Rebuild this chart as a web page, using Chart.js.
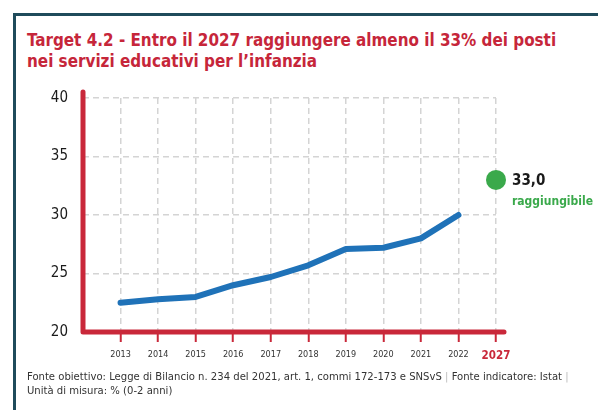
<!DOCTYPE html>
<html>
<head>
<meta charset="utf-8">
<script src="https://cdn.jsdelivr.net/npm/chart.js@4"></script>
<style>
  html, body { margin: 0; padding: 0; background: #fff; }
  #wrap { position: relative; width: 598px; height: 410px; overflow: hidden;
          font-family: "DejaVu Sans Condensed", "DejaVu Sans", sans-serif; }
  #frame { position: absolute; left: 13px; top: 13px; right: -10px; bottom: -10px;
           border-left: 3px solid #1f4b5b; border-top: 3px solid #1f4b5b; }
  #title { position: absolute; left: 27px; top: 30px; width: 565px;
           color: #c6263a; font-weight: bold; font-size: 16.9px; line-height: 21px; }
  #note { position: absolute; left: 27px; top: 370px; width: 565px;
          color: #333; font-size: 11.2px; line-height: 14px; }
  #note .sep { color: #bbb; }
  #c { position: absolute; left: 0; top: 0; }
</style>
</head>
<body>
<div id="wrap">
  <div id="frame"></div>
  <div id="title">Target 4.2 - Entro il 2027 raggiungere almeno il 33% dei posti<br>nei servizi educativi per l’infanzia</div>
  <canvas id="c" width="598" height="410"></canvas>
  <div id="note">Fonte obiettivo: Legge di Bilancio n. 234 del 2021, art. 1, commi 172-173 e SNSvS <span class="sep">|</span> Fonte indicatore: Istat <span class="sep">|</span><br>Unità di misura: % (0-2 anni)</div>
</div>
<script>
// Years shown on the horizontal axis (the last one is the target year)
const years = ['2013', '2014', '2015', '2016', '2017', '2018', '2019', '2020', '2021', '2022', '2027'];
// Posti nei servizi educativi per l'infanzia, % of children 0-2
const postiValues = [22.5, 22.8, 23.0, 24.0, 24.7, 25.7, 27.1, 27.2, 28.0, 30.0];
// Target for 2027
const targetValue = 33.0;
const targetLabel = 'raggiungibile';
// Vertical axis ticks
const yTicks = [20, 25, 30, 35, 40];

const RED = '#c9283a';
const BLUE = '#1f72b8';
const GREEN = '#3aa94b';
const GRID = '#d4d4d4';
const FONT = '"DejaVu Sans Condensed", "DejaVu Sans", sans-serif';

const lineData = postiValues.map((v, i) => ({ x: i, y: v }));
const targetData = [{ x: years.length - 1, y: targetValue }];

// Thick red axis lines with rounded ends
const axisPlugin = {
  id: 'redAxes',
  beforeDatasetsDraw(chart) {
    const { ctx, chartArea } = chart;
    ctx.save();
    ctx.strokeStyle = RED;
    ctx.lineWidth = 5;
    ctx.lineCap = 'round';
    ctx.lineJoin = 'round';
    ctx.beginPath();
    ctx.moveTo(chartArea.left, chartArea.top - 6);
    ctx.lineTo(chartArea.left, chartArea.bottom);
    ctx.lineTo(chartArea.right + 8, chartArea.bottom);
    ctx.stroke();
    ctx.restore();
  }
};

// Value and status next to the target point
const targetLabelPlugin = {
  id: 'targetLabel',
  afterDatasetsDraw(chart) {
    const { ctx } = chart;
    const meta = chart.getDatasetMeta(1);
    const pt = meta.data[0];
    const val = chart.data.datasets[1].data[0].y;
    ctx.save();
    ctx.textAlign = 'left';
    ctx.textBaseline = 'middle';
    ctx.fillStyle = '#1a1a1a';
    ctx.font = 'bold 15px ' + FONT;
    ctx.fillText(val.toFixed(1).replace('.', ','), pt.x + 16, pt.y + 1);
    ctx.fillStyle = GREEN;
    ctx.font = 'bold 12px ' + FONT;
    ctx.fillText(targetLabel, pt.x + 16, pt.y + 22);
    ctx.restore();
  }
};

new Chart(document.getElementById('c'), {
  type: 'line',
  data: {
    datasets: [
      {
        data: lineData,
        borderColor: BLUE,
        borderWidth: 6,
        borderCapStyle: 'round',
        borderJoinStyle: 'round',
        pointRadius: 0,
        tension: 0,
        fill: false
      },
      {
        data: targetData,
        showLine: false,
        clip: false,
        pointRadius: 10,
        pointBackgroundColor: GREEN,
        pointBorderColor: GREEN,
        pointBorderWidth: 0
      }
    ]
  },
  options: {
    responsive: false,
    animation: false,
    layout: { padding: { left: 0, top: 98, right: 102, bottom: 0 } },
    plugins: { legend: { display: false }, tooltip: { enabled: false } },
    scales: {
      x: {
        type: 'linear',
        min: -1,
        max: years.length - 1,
        afterFit(scale) { scale.height = 78; },
        afterBuildTicks(scale) { scale.ticks = years.map((_, i) => ({ value: i })); },
        border: { display: false, dash: [6, 4] },
        grid: {
          color: GRID,
          lineWidth: 1.5,
          drawTicks: true,
          tickLength: 10,
          tickColor: RED,
          tickWidth: 2,
          tickBorderDash: []
        },
        ticks: {
          padding: 7,
          maxRotation: 0,
          autoSkip: false,
          callback: (v) => years[v],
          color: (ctx) => ctx.index === years.length - 1 ? RED : '#333',
          font: (ctx) => ctx.index === years.length - 1
            ? { family: FONT, size: 11.5, weight: 'bold' }
            : { family: FONT, size: 9 }
        }
      },
      y: {
        min: 20,
        max: 40,
        afterFit(scale) { scale.width = 83; },
        afterBuildTicks(scale) { scale.ticks = yTicks.map(v => ({ value: v })); },
        border: { display: false, dash: [6, 4] },
        grid: {
          color: GRID,
          lineWidth: 1.5,
          drawTicks: false
        },
        ticks: {
          padding: 15,
          color: '#1a1a1a',
          font: { family: FONT, size: 15 }
        }
      }
    }
  },
  plugins: [axisPlugin, targetLabelPlugin]
});
</script>
</body>
</html>
